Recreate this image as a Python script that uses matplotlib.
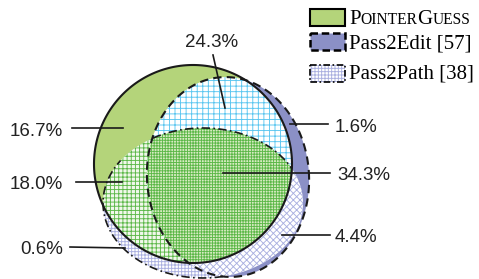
import numpy as np
import matplotlib.pyplot as plt
from matplotlib.patches import Polygon, Rectangle
from matplotlib.path import Path

W, H = 479, 279

# share of each Venn region (%)
regions = ['PointerGuess only', 'PointerGuess & Pass2Edit', 'PointerGuess & Pass2Path',
           'Pass2Path only', 'Pass2Edit only', 'all three', 'Pass2Edit & Pass2Path']
shares = [16.7, 24.3, 18.0, 0.6, 1.6, 34.3, 4.4]
methods = ['PointerGuess', 'Pass2Edit [57]', 'Pass2Path [38]']

# label layout (pixel space, y downwards)
label_xy = [(63, 136), (212, 47), (63, 189), (63, 254), (335, 132), (337, 180), (335, 242)]
label_ha = ['right', 'center', 'right', 'right', 'left', 'left', 'left']
leader = [((72, 128), (123, 128)), ((213, 55), (225, 108)), ((76, 182), (122, 182)),
          ((70, 247), (125, 248)), ((290, 124), (328, 124)), ((223, 173), (330, 173)),
          ((282, 235), (330, 235))]

GREEN = '#b4d47a'
BLUE = '#8b90c6'
LAV = '#aab0e0'
GRID_GREEN = '#5cb848'
CYAN = '#5ac6f0'

plt.rcParams['hatch.linewidth'] = 0.65


def ellipse_pts(cx, cy, w, h, ang=0., n=720):
    t = np.linspace(0, 2*np.pi, n, endpoint=False)
    x, y = w/2*np.cos(t), h/2*np.sin(t)
    a = np.deg2rad(ang)
    return np.column_stack([cx + x*np.cos(a) - y*np.sin(a),
                            cy + x*np.sin(a) + y*np.cos(a)])


def intersect(p1, p2):
    pts = np.vstack([p1[Path(p2).contains_points(p1)],
                     p2[Path(p1).contains_points(p2)]])
    c = pts.mean(axis=0)
    return pts[np.argsort(np.arctan2(pts[:, 1]-c[1], pts[:, 0]-c[0]))]


pg = ellipse_pts(193, 164, 198, 198)
pe = ellipse_pts(228, 177, 162, 200, -4)
pp = ellipse_pts(203, 203, 200, 150)
pe_pp = intersect(pe, pp)

fig = plt.figure(figsize=(W/100, H/100), dpi=100)
ax = fig.add_axes([0, 0, 1, 1])
ax.set_xlim(0, W)
ax.set_ylim(H, 0)
ax.axis('off')


def fill(pts, face, hatch=None, hc='none', clip=None, z=1):
    p = Polygon(pts, closed=True, facecolor=face, edgecolor=hc, lw=0,
                hatch=hatch, zorder=z)
    ax.add_patch(p)
    if clip is not None:
        cp = Polygon(clip, closed=True, transform=ax.transData)
        p.set_clip_path(cp)
    return p


fill(pp, 'white', '+++++', LAV, z=1)
fill(pe, BLUE, z=2)
fill(pe_pp, 'white', 'xxxxx', LAV, z=3)
fill(pg, GREEN, z=4)
fill(pp, '#f1f8ea', '++++', GRID_GREEN, clip=pg, z=5)
fill(pe, 'white', '+++', CYAN, clip=pg, z=6)
fill(pe_pp, '#d8ebc2', '++++++', GRID_GREEN, clip=pg, z=7)

# outlines
ax.add_patch(Polygon(pg, closed=True, fill=False, ec='#1a1a1a', lw=1.5, zorder=10))
ax.add_patch(Polygon(pe, closed=True, fill=False, ec='#1a1a1a', lw=1.5,
                     ls=(0, (4, 2.5)), zorder=10))
in_pe = Path(pe).contains_points(pp)
in_pg = Path(pg).contains_points(pp)
hide = (in_pe & ~in_pg) | (~in_pe & in_pg & (pp[:, 1] < 160))
ppl = np.vstack([pp, pp[:1]]).astype(float)
ppl[np.append(hide, hide[0])] = np.nan
ax.plot(ppl[:, 0], ppl[:, 1], color='#1a1a1a', lw=1.2, ls=(0, (5, 2, 1, 2)), zorder=10)

# region labels
for v, (tx, ty), ha, (p0, p1) in zip(shares, label_xy, label_ha, leader):
    ax.plot([p0[0], p1[0]], [p0[1], p1[1]], color='#1a1a1a', lw=1.2, zorder=11)
    ax.text(tx, ty, f'{v:.1f}%', ha=ha, va='baseline', fontsize=13.5,
            family='Liberation Sans', color='#222222', zorder=12)

# legend
rows_y = [9, 33, 65]
ax.add_patch(Rectangle((310, rows_y[0]), 35, 17, fc=GREEN, ec='black', lw=1.5, zorder=12))
ax.add_patch(Rectangle((310, rows_y[1]), 35, 17, fc=BLUE, ec='black', lw=1.8,
                       ls=(0, (3, 1.5)), zorder=12))
ax.add_patch(Rectangle((310, rows_y[2]), 35, 17, fc='white', ec=LAV, lw=0,
                       hatch='+++++', zorder=12))
ax.add_patch(Rectangle((310, rows_y[2]), 35, 17, fill=False, ec='black', lw=1.2,
                       ls=(0, (4, 1.5, 1, 1.5)), zorder=13))

r = fig.canvas.get_renderer()
x = 349
name = methods[0]
pieces = [('P', True), (name[1:7].upper(), False), ('G', True), (name[8:].upper(), False)]
for s, big in pieces:
    t = ax.text(x, 24, s, fontsize=15 if big else 11.2, family='Liberation Serif',
                va='baseline', zorder=13)
    x += t.get_window_extent(r).width
for name, yb in zip(methods[1:], [48, 79]):
    ax.text(349, yb, name, fontsize=15, family='Liberation Serif', va='baseline', zorder=13)

fig.savefig('out.png', dpi=100)
